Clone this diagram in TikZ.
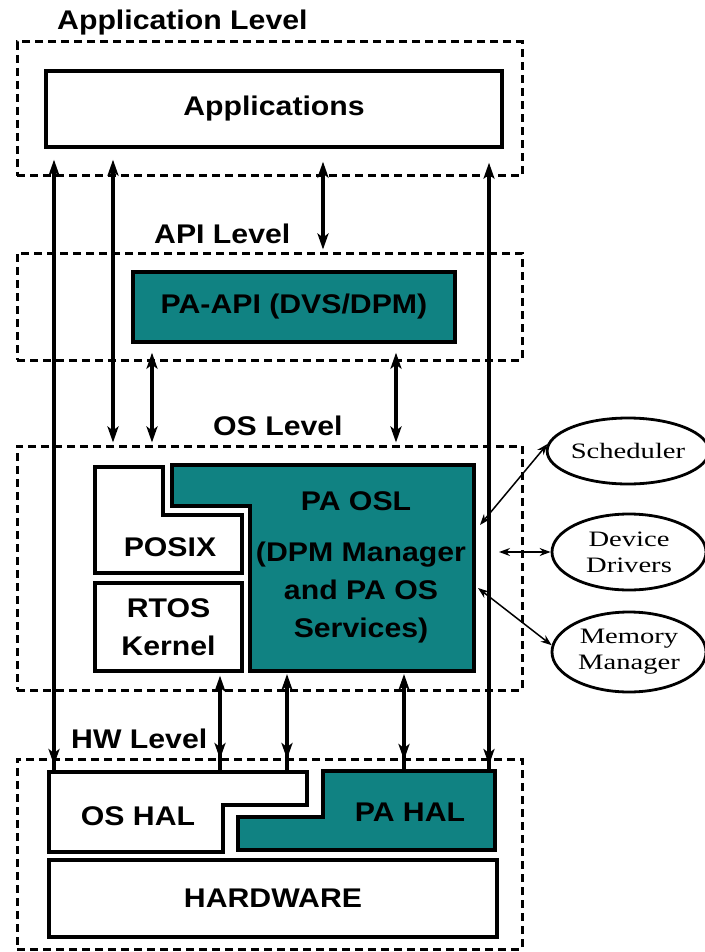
\documentclass[tikz,border=0pt]{standalone}
\usepackage{fontspec}
\setmainfont{Liberation Sans}
\newfontfamily\boxfont{Liberation Sans}[FakeStretch=1.12]
\newfontfamily\ovalfont{Liberation Serif}[FakeStretch=1.3]
\usetikzlibrary{arrows.meta, shapes.geometric, decorations.markings}

\definecolor{paTeal}{RGB}{16,130,130}
\newcommand{\bigtxt}{\boxfont\bfseries\fontsize{27}{38}\selectfont}
\newcommand{\ovaltxt}{\ovalfont\fontsize{22}{26}\selectfont}

\tikzset{
  level/.style = {rectangle, draw, line width=3pt, dash pattern=on 8pt off 5pt, inner sep=0pt},
  block/.style = {rectangle, draw, line width=3.4pt, inner sep=0pt, font=\bigtxt},
  txt/.style = {inner sep=0pt, font=\bigtxt},
  oval/.style = {ellipse, draw, line width=2.8pt, inner sep=0pt, minimum width=154pt, font=\ovaltxt, align=center},
  wire/.style = {line width=3.2pt, >={Stealth[length=16pt,width=11pt,inset=4pt]}},
  thinwire/.style = {line width=1.5pt, >={Stealth[length=11pt,width=8pt]}, <->},
  tipend/.style = {postaction={decorate}, decoration={markings,
      mark=at position -#1 with {\arrow{Stealth[length=16pt,width=11pt,inset=4pt]}}}},
}

\begin{document}
\begin{tikzpicture}[x=1pt, y=-1pt]
\useasboundingbox (0,0) rectangle (704,952);

% levels
\node[level, minimum width=505pt, minimum height=134pt] (applevel) at (269.5,109) {};
\node[level, minimum width=505pt, minimum height=107pt] (apilevel) at (269.5,306.5) {};
\node[level, minimum width=505pt, minimum height=244pt] (oslevel) at (269.5,568) {};
\node[level, minimum width=505pt, minimum height=190pt] (hwlevel) at (269.5,854) {};

\node[txt, anchor=base west] (applbl) at (57,30) {Application Level};
\node[txt, anchor=base west] (apilbl) at (154,243) {API Level};
\node[txt, anchor=base west] (oslbl) at (213,435) {OS Level};
\node[txt, anchor=base west] (hwlbl) at (71,748) {HW Level};

% blocks
\node[block, minimum width=456pt, minimum height=76pt] (apps) at (274,109) {Applications};
\node[block, fill=paTeal, minimum width=322pt, minimum height=70pt] (paapi) at (294,307) {PA-API (DVS/DPM)};
\node[block, align=center, minimum width=147pt, minimum height=88pt] (rtos) at (168.5,627) {RTOS\\Kernel};
\node[block, minimum width=448pt, minimum height=77pt] (hardware) at (273,898.5) {HARDWARE};

% stepped shapes
\draw[line width=3.4pt] (95,467) -- (163,467) -- (163,515) -- (242,515) -- (242,573) -- (95,573) -- cycle;
\draw[line width=3.4pt, fill=paTeal] (172,465) -- (474,465) -- (474,671) -- (250,671) -- (250,506) -- (172,506) -- cycle;
\draw[line width=3.4pt] (49,772) -- (307,772) -- (307,805) -- (223,805) -- (223,852) -- (49,852) -- cycle;
\draw[line width=3.4pt, fill=paTeal] (323,771) -- (495,771) -- (495,850) -- (238,850) -- (238,817) -- (323,817) -- cycle;

\node[txt] (posix) at (170,547) {POSIX};
\node[txt] (osl) at (356,501) {PA OSL};
\node[txt, align=center] (osldesc) at (361,593) {(DPM Manager\\and PA OS\\Services)};
\node[txt] (oshal) at (138,816) {OS HAL};
\node[txt] (pahal) at (410,812) {PA HAL};

\coordinate (oslbot) at (362,671);
\coordinate (oshaltop) at (178,772);
\coordinate (pahaltop) at (409,771);

% vertical links
\draw[wire, <-, shorten <=11pt, tipend=7pt] (54,0 |- apps.south) -- (54,0 |- oshaltop);
\draw[wire, <->, shorten <=11pt, shorten >=2pt] (113,0 |- apps.south) -- (113,0 |- oslevel.north);
\draw[wire, <->, shorten <=13pt, shorten >=2pt] (323,0 |- apps.south) -- (323,0 |- apilevel.north);
\draw[wire, <-, shorten <=14pt, tipend=6pt] (489,0 |- apps.south) -- (489,0 |- pahaltop);
\draw[wire, <->, shorten <=9pt, shorten >=2pt] (152,0 |- paapi.south) -- (152,0 |- oslevel.north);
\draw[wire, <->, shorten <=9pt, shorten >=2pt] (396,0 |- paapi.south) -- (396,0 |- oslevel.north);
\draw[wire, <-, shorten <=3pt, tipend=13pt] (220,0 |- rtos.south) -- (220,0 |- oshaltop);
\draw[wire, <-, shorten <=3pt, tipend=13pt] (287,0 |- oslbot) -- (287,0 |- oshaltop);
\draw[wire, <-, shorten <=3pt, tipend=11pt] (404,0 |- oslbot) -- (404,0 |- pahaltop);

% services
\node[oval, minimum height=66pt] (sched) at (628,451) {Scheduler};
\node[oval, minimum height=76pt] (drivers) at (629,552) {Device\\Drivers};
\node[oval, minimum height=80pt] (memory) at (629,652) {Memory\\Manager};

\coordinate (schedfoot) at (480,525);
\coordinate (driversfoot) at (491,552);
\coordinate (memoryfoot) at (478,588);
\draw[thinwire] (schedfoot) -- (sched.175);
\draw[thinwire, shorten <=8pt] (driversfoot) -- (drivers.west);
\draw[thinwire] (memoryfoot) -- (memory.175);
\end{tikzpicture}
\end{document}
